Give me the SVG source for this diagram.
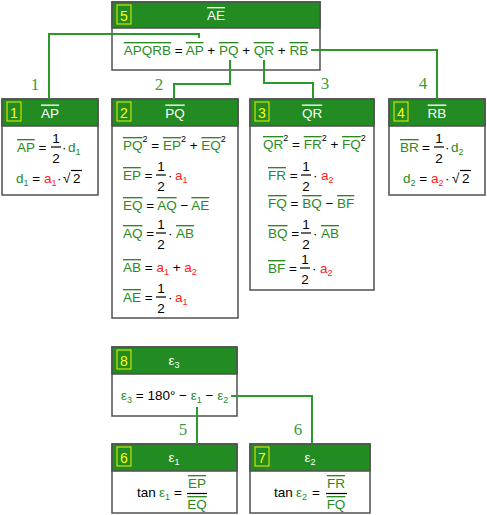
<svg xmlns="http://www.w3.org/2000/svg" width="487" height="515" viewBox="0 0 487 515">
<style>
text{font-family:"Liberation Sans",Arial,sans-serif;font-size:13.5px;fill:#000}
.box{fill:#fff;stroke:#505050;stroke-width:1.5}
.hd{fill:#228b22;stroke:#505050;stroke-width:1.5}
.nb{fill:none;stroke:#f0f000;stroke-width:1}
.nbt{fill:#ffff00;font-size:14px;text-anchor:middle}
.ht{fill:#fff;text-anchor:middle}
.g{fill:#2a8a1e}
.r{fill:#ff2020}
.o{text-decoration:overline}
.s{font-size:9px}
.m{text-anchor:middle}
.bar{stroke:#000;stroke-width:1.2}
.c{fill:none;stroke:#2a9a2a;stroke-width:2}
.lb{font-family:"Liberation Serif","Times New Roman",serif;font-size:17px;fill:#3d9a3d;text-anchor:middle}
</style>

<g id="node5">
<rect class="box" x="112" y="2" width="208" height="68"/>
<rect class="hd" x="112" y="2" width="208" height="26"/>
<rect class="nb" x="117" y="5" width="14" height="19"/>
<text class="nbt" x="124" y="20.5">5</text>
<text class="ht" x="216" y="20"><tspan class="o">AE</tspan></text>
<text x="216" y="55" class="m"><tspan class="g o">APQRB</tspan> = <tspan class="g o">AP</tspan> + <tspan class="g o">PQ</tspan> + <tspan class="g o">QR</tspan> + <tspan class="g o">RB</tspan></text>
</g>

<g id="node1">
<rect class="box" x="2" y="99" width="96" height="96"/>
<rect class="hd" x="2" y="99" width="96" height="27"/>
<rect class="nb" x="7" y="102" width="14" height="19"/>
<text class="nbt" x="14" y="117.5">1</text>
<text class="ht" x="50" y="117.5"><tspan class="o">AP</tspan></text>
<text x="17" y="152"><tspan class="g o">AP</tspan> =</text>
<text class="m" x="56" y="143">1</text><line class="bar" x1="51" y1="147" x2="61" y2="147"/><text class="m" x="56" y="163">2</text>
<text x="62" y="152">·</text>
<text x="68" y="152" class="g">d<tspan class="s" dy="3">1</tspan></text>
<text x="16" y="183"><tspan class="g">d</tspan><tspan class="g s" dy="3">1</tspan><tspan dy="-3"> = </tspan><tspan class="r">a</tspan><tspan class="r s" dy="3">1</tspan></text>
<text x="57" y="183">·</text>
<text x="63" y="183">√<tspan x="73">2</tspan></text>
<line class="bar" x1="71" y1="170.5" x2="82" y2="170.5"/>
</g>

<g id="node2">
<rect class="box" x="112" y="99" width="126" height="219"/>
<rect class="hd" x="112" y="99" width="126" height="27"/>
<rect class="nb" x="117" y="102" width="14" height="19"/>
<text class="nbt" x="124" y="117.5">2</text>
<text class="ht" x="175" y="117.5"><tspan class="o">PQ</tspan></text>
<text x="123" y="150"><tspan class="g o">PQ</tspan><tspan class="s" dy="-8">2</tspan><tspan dy="8"> = </tspan><tspan class="g o">EP</tspan><tspan class="s" dy="-8">2</tspan><tspan dy="8"> + </tspan><tspan class="g o">EQ</tspan><tspan class="s" dy="-8">2</tspan></text>
<text x="123" y="180"><tspan class="g o">EP</tspan> =</text>
<text class="m" x="161" y="171">1</text><line class="bar" x1="156" y1="175" x2="166" y2="175"/><text class="m" x="161" y="191">2</text>
<text x="168" y="180">·</text>
<text x="175" y="180" class="r">a<tspan class="s" dy="3">1</tspan></text>
<text x="123" y="210"><tspan class="g o">EQ</tspan> = <tspan class="g o">AQ</tspan> − <tspan class="g o">AE</tspan></text>
<text x="123" y="238"><tspan class="g o">AQ</tspan> =</text>
<text class="m" x="161" y="229">1</text><line class="bar" x1="156" y1="233" x2="166" y2="233"/><text class="m" x="161" y="249">2</text>
<text x="168" y="238">·</text>
<text x="176" y="238" class="g o">AB</text>
<text x="123" y="272"><tspan class="g o">AB</tspan> = <tspan class="r">a</tspan><tspan class="r s" dy="3">1</tspan><tspan dy="-3"> + </tspan><tspan class="r">a</tspan><tspan class="r s" dy="3">2</tspan></text>
<text x="123" y="302"><tspan class="g o">AE</tspan> =</text>
<text class="m" x="161" y="293">1</text><line class="bar" x1="156" y1="297" x2="166" y2="297"/><text class="m" x="161" y="313">2</text>
<text x="168" y="302">·</text>
<text x="175" y="302" class="r">a<tspan class="s" dy="3">1</tspan></text>
</g>

<g id="node3">
<rect class="box" x="250" y="99" width="124" height="191"/>
<rect class="hd" x="250" y="99" width="124" height="27"/>
<rect class="nb" x="255" y="102" width="14" height="19"/>
<text class="nbt" x="262" y="117.5">3</text>
<text class="ht" x="312" y="117.5"><tspan class="o">QR</tspan></text>
<text x="263" y="149"><tspan class="g o">QR</tspan><tspan class="s" dy="-8">2</tspan><tspan dy="8"> = </tspan><tspan class="g o">FR</tspan><tspan class="s" dy="-8">2</tspan><tspan dy="8"> + </tspan><tspan class="g o">FQ</tspan><tspan class="s" dy="-8">2</tspan></text>
<text x="268" y="180"><tspan class="g o">FR</tspan> =</text>
<text class="m" x="306" y="171">1</text><line class="bar" x1="301" y1="175" x2="311" y2="175"/><text class="m" x="306" y="191">2</text>
<text x="313" y="180">·</text>
<text x="321" y="180" class="r">a<tspan class="s" dy="3">2</tspan></text>
<text x="268" y="208"><tspan class="g o">FQ</tspan> = <tspan class="g o">BQ</tspan> − <tspan class="g o">BF</tspan></text>
<text x="268" y="238"><tspan class="g o">BQ</tspan> =</text>
<text class="m" x="306" y="229">1</text><line class="bar" x1="301" y1="233" x2="311" y2="233"/><text class="m" x="306" y="249">2</text>
<text x="313" y="238">·</text>
<text x="321" y="238" class="g o">AB</text>
<text x="268" y="273"><tspan class="g o">BF</tspan> =</text>
<text class="m" x="305" y="264">1</text><line class="bar" x1="300" y1="268" x2="310" y2="268"/><text class="m" x="305" y="284">2</text>
<text x="312" y="273">·</text>
<text x="320" y="273" class="r">a<tspan class="s" dy="3">2</tspan></text>
</g>

<g id="node4">
<rect class="box" x="389" y="99" width="96" height="96"/>
<rect class="hd" x="389" y="99" width="96" height="27"/>
<rect class="nb" x="394" y="102" width="14" height="19"/>
<text class="nbt" x="401" y="117.5">4</text>
<text class="ht" x="437" y="117.5"><tspan class="o">RB</tspan></text>
<text x="400" y="152" class="g o">BR</text>
<text x="422" y="152">=</text>
<text class="m" x="439" y="143">1</text><line class="bar" x1="434" y1="147" x2="444" y2="147"/><text class="m" x="439" y="163">2</text>
<text x="445" y="152">·</text>
<text x="451" y="152" class="g">d<tspan class="s" dy="3">2</tspan></text>
<text x="403" y="183"><tspan class="g">d</tspan><tspan class="g s" dy="3">2</tspan><tspan dy="-3"> = </tspan><tspan class="r">a</tspan><tspan class="r s" dy="3">2</tspan></text>
<text x="445" y="183">·</text>
<text x="452" y="183">√<tspan x="462">2</tspan></text>
<line class="bar" x1="460" y1="170.5" x2="471" y2="170.5"/>
</g>

<g id="node8">
<rect class="box" x="112" y="347" width="125" height="69"/>
<rect class="hd" x="112" y="347" width="125" height="27"/>
<rect class="nb" x="117" y="350" width="14" height="19"/>
<text class="nbt" x="124" y="365.5">8</text>
<text class="ht" x="174" y="365">ε<tspan class="s" dy="3">3</tspan></text>
<text x="121" y="400"><tspan class="g">ε</tspan><tspan class="g s" dy="3">3</tspan><tspan dy="-3"> = 180° − </tspan><tspan class="g">ε</tspan><tspan class="g s" dy="3">1</tspan><tspan dy="-3"> − </tspan><tspan class="g">ε</tspan><tspan class="g s" dy="3">2</tspan></text>
</g>

<g id="node6">
<rect class="box" x="112" y="444" width="125" height="69"/>
<rect class="hd" x="112" y="444" width="125" height="27"/>
<rect class="nb" x="117" y="447" width="14" height="19"/>
<text class="nbt" x="124" y="462.5">6</text>
<text class="ht" x="174" y="462">ε<tspan class="s" dy="3">1</tspan></text>
<text x="137" y="497">tan</text>
<text x="159" y="497" class="g">ε<tspan class="s" dy="3">1</tspan></text>
<text x="174" y="497">=</text>
<text class="m g o" x="197" y="488">EP</text><line class="bar" x1="187" y1="493.5" x2="207" y2="493.5"/><text class="m g o" x="197" y="509">EQ</text>
</g>

<g id="node7">
<rect class="box" x="250" y="444" width="120" height="69"/>
<rect class="hd" x="250" y="444" width="120" height="27"/>
<rect class="nb" x="255" y="447" width="14" height="19"/>
<text class="nbt" x="262" y="462.5">7</text>
<text class="ht" x="310" y="462">ε<tspan class="s" dy="3">2</tspan></text>
<text x="274" y="497">tan</text>
<text x="296" y="497" class="g">ε<tspan class="s" dy="3">2</tspan></text>
<text x="312" y="497">=</text>
<text class="m g o" x="336" y="488">FR</text><line class="bar" x1="326" y1="493.5" x2="347" y2="493.5"/><text class="m g o" x="336" y="509">FQ</text>
</g>

<g id="connectors">
<polyline class="c" points="199,38 199,34 49,34 49,99"/>
<polyline class="c" points="230,60 230,84 174,84 174,99"/>
<polyline class="c" points="264,60 264,83 313,83 313,99"/>
<polyline class="c" points="311,50 437,50 437,99"/>
<polyline class="c" points="197,407 197,444"/>
<polyline class="c" points="231,396 312,396 312,444"/>
<text class="lb" x="35" y="90">1</text>
<text class="lb" x="159" y="90">2</text>
<text class="lb" x="325" y="89">3</text>
<text class="lb" x="423" y="89">4</text>
<text class="lb" x="183" y="435">5</text>
<text class="lb" x="298" y="435">6</text>
</g>
</svg>
